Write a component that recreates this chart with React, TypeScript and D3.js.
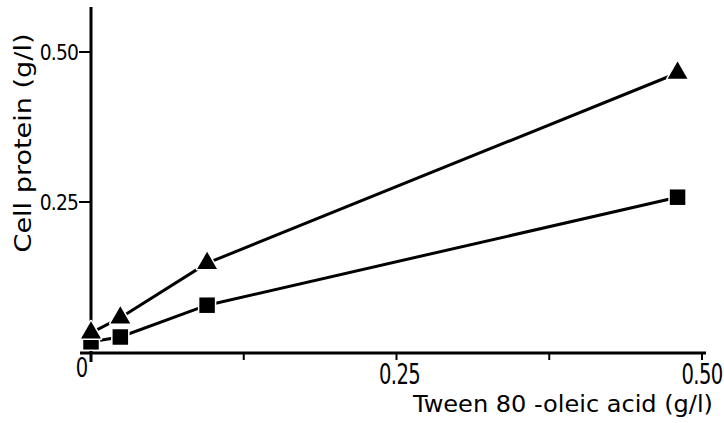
import * as React from 'react';
import * as d3 from "d3";

interface Point {
    x: number;
    y: number;
}

// Tween 80-oleic acid (g/l)
const xValues = [0, 0.024, 0.095, 0.48];
// cell protein (g/l), triangles
const triangleValues = [0.032, 0.057, 0.148, 0.465];
// cell protein (g/l), squares
const squareValues = [0.017, 0.025, 0.078, 0.258];

const xTicks = [0.125, 0.25, 0.375, 0.5];
const xTickLabels = ["0", "0.25", "0.50"];
const xTickLabelValues = [0, 0.25, 0.5];
const yTicks = [0.25, 0.5];
const yTickLabels = ["0.25", "0.50"];

const WIDTH = 724;
const HEIGHT = 423;
const FONT = "'DejaVu Sans', sans-serif";

export default class App extends React.Component {

    render() {
        const scaleX = d3.scaleLinear().domain([0, 0.5]).range([91, 702]);
        const scaleY = d3.scaleLinear().domain([0, 0.5]).range([352, 52]);

        const tri: Point[] = xValues.map((x, i) => ({ x, y: triangleValues[i] }));
        const sq: Point[] = xValues.map((x, i) => ({ x, y: squareValues[i] }));

        const line = d3.line<Point>()
            .curve(d3.curveLinear)
            .x(p => scaleX(p.x))
            .y(p => scaleY(p.y));

        const triSym = d3.symbol().type(d3.symbolTriangle).size(170);
        const sqSym = d3.symbol().type(d3.symbolSquare).size(240);

        return (
            <svg width={WIDTH} height={HEIGHT} style={{ position: "absolute", left: 0, top: 0, background: "#fff" }}>
                {/* axes */}
                <line x1={91} x2={91} y1={7} y2={362} stroke="#000" strokeWidth={3} />
                <line x1={80} x2={706} y1={353} y2={353} stroke="#000" strokeWidth={3} />
                {yTicks.map((t, i) => (
                    <g key={"yt" + i}>
                        <line x1={79} x2={91} y1={scaleY(t)} y2={scaleY(t)} stroke="#000" strokeWidth={2} />
                        <text transform={`translate(78,${scaleY(t) + 8}) scale(0.85,1)`} textAnchor="end" letterSpacing={-1} fontFamily={FONT} fontSize={22}>{yTickLabels[i]}</text>
                    </g>
                ))}
                {xTicks.map((t, i) => (
                    <line key={"xt" + i} x1={scaleX(t)} x2={scaleX(t)} y1={353} y2={360} stroke="#000" strokeWidth={2} />
                ))}
                {xTickLabelValues.map((t, i) => (
                    t === 0
                        ? <text key={"xl" + i} transform={`translate(${scaleX(t) - 9},377) scale(0.75,1)`} textAnchor="middle" fontFamily={FONT} fontSize={26}>{xTickLabels[i]}</text>
                        : <text key={"xl" + i} transform={`translate(${scaleX(t) + (t === 0.5 ? 0 : 3)},384) scale(0.7,1)`} textAnchor="middle" letterSpacing={-1} fontFamily={FONT} fontSize={28}>{xTickLabels[i]}</text>
                ))}
                <text x={413} y={412} textLength={300} lengthAdjust="spacingAndGlyphs" fontFamily={FONT} fontSize={23}>Tween 80 -oleic acid (g/l)</text>
                <text transform="translate(31,143) rotate(-90)" textAnchor="middle" textLength={219} lengthAdjust="spacingAndGlyphs" fontFamily={FONT} fontSize={23}>Cell protein (g/l)</text>

                {/* series */}
                <path d={line(tri) || undefined} fill="none" stroke="#000" strokeWidth={3} />
                <path d={line(sq) || undefined} fill="none" stroke="#000" strokeWidth={3} />
                {sq.map((p, i) => (
                    <path key={"s" + i} d={sqSym() || undefined} transform={`translate(${scaleX(p.x)},${scaleY(p.y)})`}
                        fill="#000" stroke="#fff" strokeWidth={3} style={{ paintOrder: "stroke" }} strokeLinejoin="round" />
                ))}
                {tri.map((p, i) => (
                    <path key={"t" + i} d={triSym() || undefined} transform={`translate(${scaleX(p.x)},${scaleY(p.y)})`}
                        fill="#000" stroke="#fff" strokeWidth={3} style={{ paintOrder: "stroke" }} strokeLinejoin="round" />
                ))}
            </svg>
        );
    }
}
